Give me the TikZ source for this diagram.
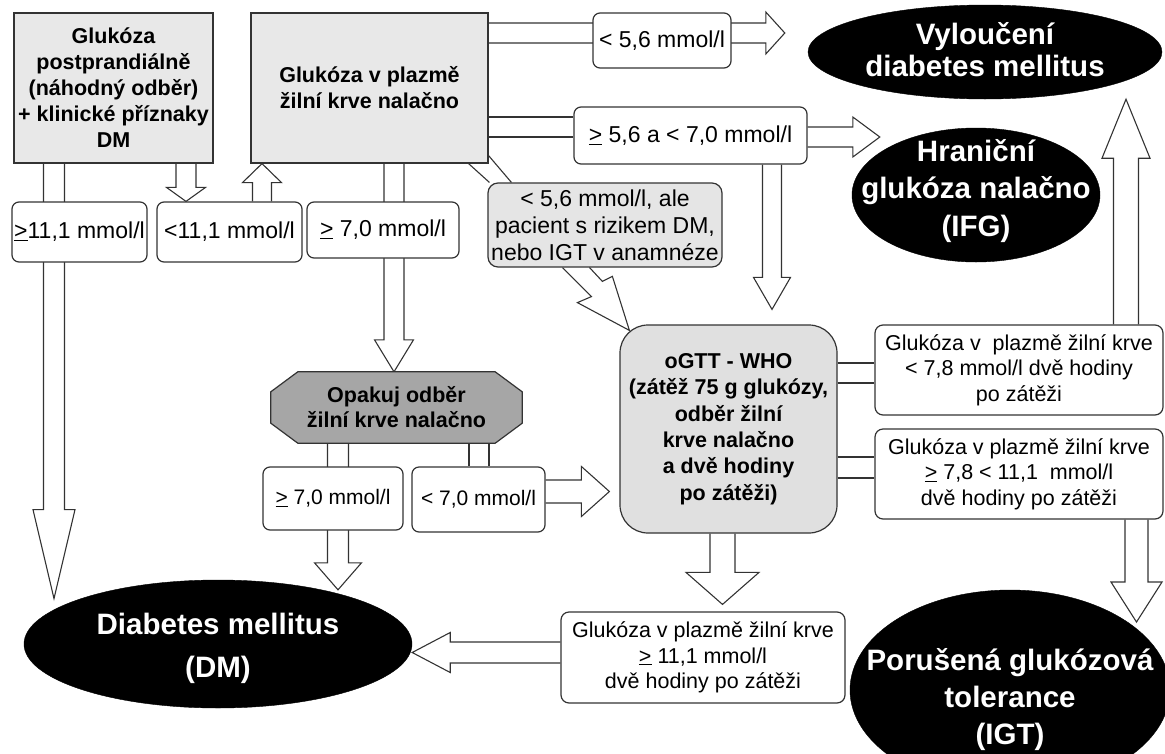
\documentclass[tikz,border=0pt]{standalone}
\usepackage{fontspec}
\setmainfont{Liberation Sans}
\usetikzlibrary{calc,backgrounds,shapes.geometric}
\newcommand{\gequ}{\underline{>}}
\def\varr(#1)(#2)#3#4#5{\draw[blk] let \p1=(#1), \p2=(#2), \n1={\y2-sign(\y2-(\y1))*#5pt} in (\x1-#3pt,\y1) -- (\x1-#3pt,\n1) -- (\x1-#4pt,\n1) -- (\x1,\y2) -- (\x1+#4pt,\n1) -- (\x1+#3pt,\n1) -- (\x1+#3pt,\y1);}
\def\harr(#1)(#2)#3#4#5{\draw[blk] let \p1=(#1), \p2=(#2), \n1={\x2-sign(\x2-(\x1))*#5pt} in (\x1,\y1-#3pt) -- (\n1,\y1-#3pt) -- (\n1,\y1-#4pt) -- (\x2,\y1) -- (\n1,\y1+#4pt) -- (\n1,\y1+#3pt) -- (\x1,\y1+#3pt);}
\def\vdl(#1)(#2)#3{\draw[blk] let \p1=(#1), \p2=(#2) in (\x1-#3pt,\y1) -- (\x1-#3pt,\y2) (\x1+#3pt,\y1) -- (\x1+#3pt,\y2);}
\def\hdl(#1)(#2)#3{\draw[blk] let \p1=(#1), \p2=(#2) in (\x1,\y1-#3pt) -- (\x2,\y1-#3pt) (\x1,\y1+#3pt) -- (\x2,\y1+#3pt);}
\tikzset{
  bord/.style={draw=black!80, line width=1.2pt},
  blk/.style={draw=black!80, line width=1.1pt, line join=miter},
  grybox/.style={bord, fill=black!9, align=center, inner sep=1pt, font=\bfseries\fontsize{21.5}{26}\selectfont},
  valbox/.style={bord, fill=white, rounded corners=7pt, align=center, inner sep=1pt, font=\fontsize{23}{27}\selectfont},
  notebox/.style={bord, fill=white, rounded corners=8pt, align=center, inner sep=1pt, font=\fontsize{21.5}{25.5}\selectfont},
  oval/.style={ellipse, draw=black, fill=black, inner sep=0pt},
  ovaltxt/.style={text=white, align=center, inner sep=0pt, font=\bfseries\fontsize{29.5}{#1}\selectfont},
  octo/.style={bord, fill=black!35, line join=miter},
}
\begin{document}
\begin{tikzpicture}[x=1pt,y=-1pt]
			%%%%% START %%%%%
			\useasboundingbox (0,0) rectangle (1165,753);
			\clip (0,0) rectangle (1165,753);
			
			\node[grybox, minimum width=199pt, minimum height=150pt] (boxa) at (113.5,88) {Glukóza\\postprandiálně\\(náhodný odběr)\\+ klinické příznaky\\DM};
			\node[grybox, minimum width=237pt, minimum height=150pt] (boxb) at (369.5,88) {Glukóza v plazmě\\žilní krve nalačno};
			
			\node[valbox, minimum width=135pt, minimum height=60pt] (ge111) at (79.5,232) {\gequ11,1 mmol/l};
			\node[valbox, minimum width=145pt, minimum height=60pt] (lt111) at (229.5,232) {<11,1 mmol/l};
			\node[valbox, minimum width=152pt, minimum height=56pt] (ge70a) at (383,230) {\gequ\ 7,0 mmol/l};
			\node[valbox, fill=black!10, rounded corners=10pt, minimum width=234pt, minimum height=84pt] (zz) at (605,225) {< 5,6 mmol/l, ale\\pacient s rizikem DM,\\nebo IGT v anamnéze};
			
			\node[valbox, minimum width=138pt, minimum height=55pt] (lt56) at (662,40.5) {< 5,6 mmol/l};
			\node[valbox, minimum width=233pt, minimum height=57pt] (ge56) at (690.5,135.5) {\gequ\ 5,6 a < 7,0 mmol/l};
			
			\node[oval, minimum width=354pt, minimum height=94pt] (vyl) at (985,52) {};
			\node[ovaltxt=32pt] (vyltxt) at (985,50) {Vyloučení\\diabetes mellitus};
			\node[oval, minimum width=248pt, minimum height=134pt] (ifg) at (976,195) {};
			\node[ovaltxt=37.5pt] (ifgtxt) at (976,191) {Hraniční\\glukóza nalačno\\(IFG)};
			
			\node[grybox, fill=black!12, rounded corners=28pt, minimum width=217pt, minimum height=208pt, font=\bfseries\fontsize{21.5}{26.4}\selectfont] (ogtt) at (728.5,429) {oGTT - WHO\\(zátěž 75 g glukózy,\\odběr žilní\\krve nalačno\\a dvě hodiny\\po zátěži)};
			\node[notebox, minimum width=288pt, minimum height=90pt] (rb1) at (1019,370) {Glukóza v\ \ plazmě žilní krve\\< 7,8 mmol/l dvě hodiny\\po zátěži};
			\node[notebox, minimum width=288pt, minimum height=90pt] (rb2) at (1019,474) {Glukóza v plazmě žilní krve\\\gequ\ 7,8 < 11,1 \ mmol/l\\dvě hodiny po zátěži};
			
			\node[align=center, font=\bfseries\fontsize{21.5}{25}\selectfont, minimum width=251pt, minimum height=71pt] (opak) at (396.5,407.5) {Opakuj odběr\\žilní krve nalačno};
			\node[valbox, minimum width=140pt, minimum height=63pt, font=\fontsize{21}{25}\selectfont] (ge70b) at (333,498.5) {\gequ\ 7,0 mmol/l};
			\node[valbox, minimum width=133pt, minimum height=65pt, font=\fontsize{21}{25}\selectfont] (lt70) at (478.5,499.5) {< 7,0 mmol/l};
			
			\node[notebox, minimum width=284pt, minimum height=91pt] (bb) at (703,657.5) {Glukóza v plazmě žilní krve\\\gequ\ 11,1 mmol/l\\dvě hodiny po zátěži};
			\node[oval, minimum width=388pt, minimum height=128pt] (dm) at (218,644) {};
			\node[ovaltxt=43pt] (dmtxt) at (218,648) {Diabetes mellitus\\(DM)};
			\node[oval, minimum width=320pt, minimum height=200pt] (igt) at (1010,690) {};
			\node[ovaltxt=37pt] (igttxt) at (1010,700) {Porušená glukózová\\tolerance\\(IGT)};
			
			\begin{scope}[on background layer]
			\varr([xshift=-59.5pt]boxa.south)(dm.north west){10.5}{21}{89}
			\varr([xshift=72.5pt]boxa.south)(lt111.north){10}{19.5}{14}
			\varr([xshift=32.5pt]lt111.north)(boxb.south){9.5}{19.5}{19}
			\varr([xshift=24.5pt]boxb.south)(opak.north){10}{19.5}{32}
			
			\harr([yshift=55pt]boxb.east)([xshift=-23pt]vyl.west){10}{21}{19}
			\hdl([yshift=-39pt]boxb.east)(ge56.west){10}
			\harr([yshift=-1.5pt]ge56.east)([xshift=28pt]ifg.west){10}{20}{27}
			\varr([xshift=81.5pt]ge56.south)([yshift=15pt]ogtt.north){9.5}{18.5}{32}
			
			\draw[blk] ([xshift=-20pt]boxb.south east) -- ([xshift=2pt]zz.north west)
			           ([yshift=8pt]boxb.south east) -- ([xshift=24pt]zz.north west);
			\draw[blk] ([xshift=75pt]zz.south west) -- ++(29,29) -- ++(-14,6) -- ($(ogtt.north west)+(10,6)$) -- ++(-17,-54) -- ++(-10,5) -- ++(-13,-14);
			
			\hdl([yshift=56pt]ogtt.east)(rb1.west){10}
			\hdl([yshift=-38.5pt]ogtt.east)(rb2.west){10.5}
			\varr([xshift=107pt]rb1.north)(vyl.south){12.5}{24}{59}
			\varr([xshift=117.5pt]rb2.south)(igt.30){11.5}{25.5}{40}
			\varr([xshift=-6pt]ogtt.south)([yshift=7pt]bb.north){12.5}{36.5}{32}
			\harr([yshift=5pt]bb.west)(dm.east){10.5}{20}{38}
			
			\varr([xshift=-58.5pt]opak.south)([yshift=-10pt]dm.north){10.5}{23.5}{27}
			\vdl([xshift=82.5pt]opak.south)(lt70.north){10}
			\harr([yshift=8pt]lt70.east)([xshift=-10pt]ogtt.west){11.5}{25}{28}
			
			\draw[octo] ([xshift=27pt]opak.north west) -- ([xshift=-27pt]opak.north east) -- ([yshift=-20pt]opak.north east) -- ([yshift=20pt]opak.south east) -- ([xshift=-27pt]opak.south east) -- ([xshift=27pt]opak.south west) -- ([yshift=20pt]opak.south west) -- ([yshift=-20pt]opak.north west) -- cycle;
			\end{scope}
			%%%%% END %%%%%
\end{tikzpicture}
\end{document}
